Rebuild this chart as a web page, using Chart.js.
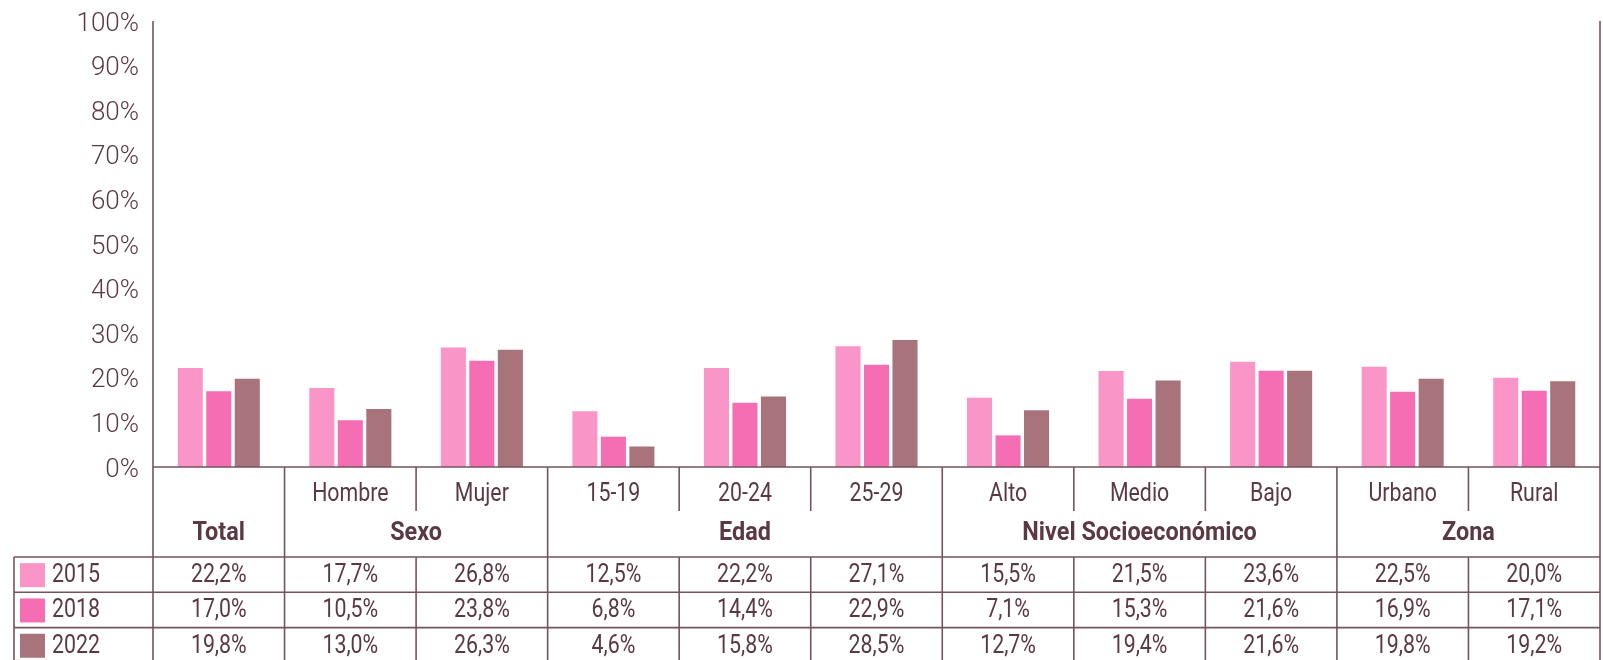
<!DOCTYPE html>
<html>
<head>
<meta charset="utf-8">
<script src="https://cdn.jsdelivr.net/npm/chart.js@4"></script>
<style>
  html, body { margin: 0; padding: 0; background: #fff; }
  #wrap { width: 1603px; height: 660px; }
</style>
</head>
<body>
<div id="wrap"><canvas id="ninisChart" width="1603" height="660"></canvas></div>
<script>
// Categories and group headers
const categories = ['Total', 'Hombre', 'Mujer', '15-19', '20-24', '25-29', 'Alto', 'Medio', 'Bajo', 'Urbano', 'Rural'];
const subLabels = ['', 'Hombre', 'Mujer', '15-19', '20-24', '25-29', 'Alto', 'Medio', 'Bajo', 'Urbano', 'Rural'];
const groupNames = ['Total', 'Sexo', 'Edad', 'Nivel Socioeconómico', 'Zona'];
const groupSpans = [1, 2, 3, 3, 2];

// Series (percent)
const years = ['2015', '2018', '2022'];
const data2015 = [22.2, 17.7, 26.8, 12.5, 22.2, 27.1, 15.5, 21.5, 23.6, 22.5, 20.0];
const data2018 = [17.0, 10.5, 23.8, 6.8, 14.4, 22.9, 7.1, 15.3, 21.6, 16.9, 17.1];
const data2022 = [19.8, 13.0, 26.3, 4.6, 15.8, 28.5, 12.7, 19.4, 21.6, 19.8, 19.2];

const yTicks = [0, 10, 20, 30, 40, 50, 60, 70, 80, 90, 100];

const colors = ['#F996C7', '#F56EB3', '#A9737B'];
const textColor = '#5A3943';
const lineColor = '#74535C';
const FONT = "Roboto, 'DejaVu Sans', sans-serif";
const SQUEEZE = 0.82;      // narrow look for table text
const SQUEEZE_BOLD = 0.9;

const fmt = v => v.toFixed(1).replace('.', ',') + '%';

// Draws the data table under the bars, plus the frame lines
const tablePlugin = {
    id: 'tablePlugin',
    afterDraw(chart) {
        const ctx = chart.ctx;
        const area = chart.chartArea;
        const xs = chart.scales.x;
        const n = categories.length;
        const colW = (area.right - area.left) / n;
        const edge = i => area.left + i * colW;
        const base = area.bottom;
        const subBottom = base + 44;
        const headBottom = base + 90;
        const rowH = 35.3;
        const tableLeft = 14;
        const bottom = chart.height;
        const series = [data2015, data2018, data2022];

        ctx.save();
        ctx.strokeStyle = lineColor;
        ctx.lineWidth = 1.6;
        const line = (x1, y1, x2, y2) => {
            ctx.beginPath();
            ctx.moveTo(x1, y1);
            ctx.lineTo(x2, y2);
            ctx.stroke();
        };
        const text = (str, x, y, sq = SQUEEZE) => {
            ctx.save();
            ctx.translate(x, y);
            ctx.scale(sq, 1);
            ctx.fillText(str, 0, 0);
            ctx.restore();
        };

        // axis and right frame
        line(area.left, area.top, area.left, bottom);
        line(area.right, area.top, area.right, bottom);
        line(area.left, base, area.right, base);

        // group separators through the header
        let c = 0;
        groupSpans.forEach(span => {
            for (let k = 1; k < span; k++) {
                line(edge(c + k), base, edge(c + k), subBottom);
            }
            c += span;
            if (c < n) line(edge(c), base, edge(c), headBottom);
        });

        // data rows
        for (let r = 0; r <= 3; r++) {
            line(tableLeft, headBottom + r * rowH, area.right, headBottom + r * rowH);
        }
        line(tableLeft, headBottom, tableLeft, bottom);
        for (let i = 1; i < n; i++) line(edge(i), headBottom, edge(i), bottom);

        ctx.textAlign = 'center';
        ctx.textBaseline = 'middle';
        ctx.fillStyle = textColor;

        // sub labels
        ctx.font = '26px ' + FONT;
        subLabels.forEach((lab, i) => {
            if (lab) text(lab, xs.getPixelForValue(i), base + 27);
        });

        // group labels
        ctx.font = 'bold 26px ' + FONT;
        c = 0;
        groupNames.forEach((name, g) => {
            const mid = (edge(c) + edge(c + groupSpans[g])) / 2;
            text(name, mid, base + 66, SQUEEZE_BOLD);
            c += groupSpans[g];
        });

        // values and legend keys
        ctx.font = '26px ' + FONT;
        series.forEach((vals, r) => {
            const cy = headBottom + r * rowH + rowH / 2 + 1;
            ctx.fillStyle = colors[r];
            ctx.fillRect(20, cy - 12.5, 25, 24);
            ctx.fillStyle = textColor;
            ctx.textAlign = 'left';
            text(years[r], 52, cy);
            ctx.textAlign = 'center';
            vals.forEach((v, i) => text(fmt(v), xs.getPixelForValue(i), cy));
        });
        ctx.restore();
    }
};

const ctx = document.getElementById('ninisChart').getContext('2d');
const ninisChart = new Chart(ctx, {
    type: 'bar',
    data: {
        labels: categories,
        datasets: [
            { label: years[0], data: data2015, backgroundColor: colors[0] },
            { label: years[1], data: data2018, backgroundColor: colors[1] },
            { label: years[2], data: data2022, backgroundColor: colors[2] },
        ],
    },
    options: {
        responsive: false,
        animation: false,
        categoryPercentage: 0.65,
        barPercentage: 0.88,
        layout: { padding: { left: 0, right: 3, top: 21, bottom: 193 } },
        plugins: {
            legend: { display: false },
            tooltip: { enabled: false },
        },
        scales: {
            x: { display: false },
            y: {
                min: 0,
                max: 100,
                afterFit(scale) {
                    scale.width = 153;
                    scale.paddingTop = 0;
                    scale.paddingBottom = 0;
                },
                afterBuildTicks(scale) { scale.ticks = yTicks.map(v => ({ value: v })); },
                grid: { display: false, drawTicks: false },
                border: { display: false },
                ticks: {
                    padding: 14,
                    labelOffset: 3,
                    color: textColor,
                    font: { family: FONT, size: 26, weight: '300' },
                    callback: v => v + '%',
                },
            },
        },
    },
    plugins: [tablePlugin],
});
</script>
</body>
</html>
